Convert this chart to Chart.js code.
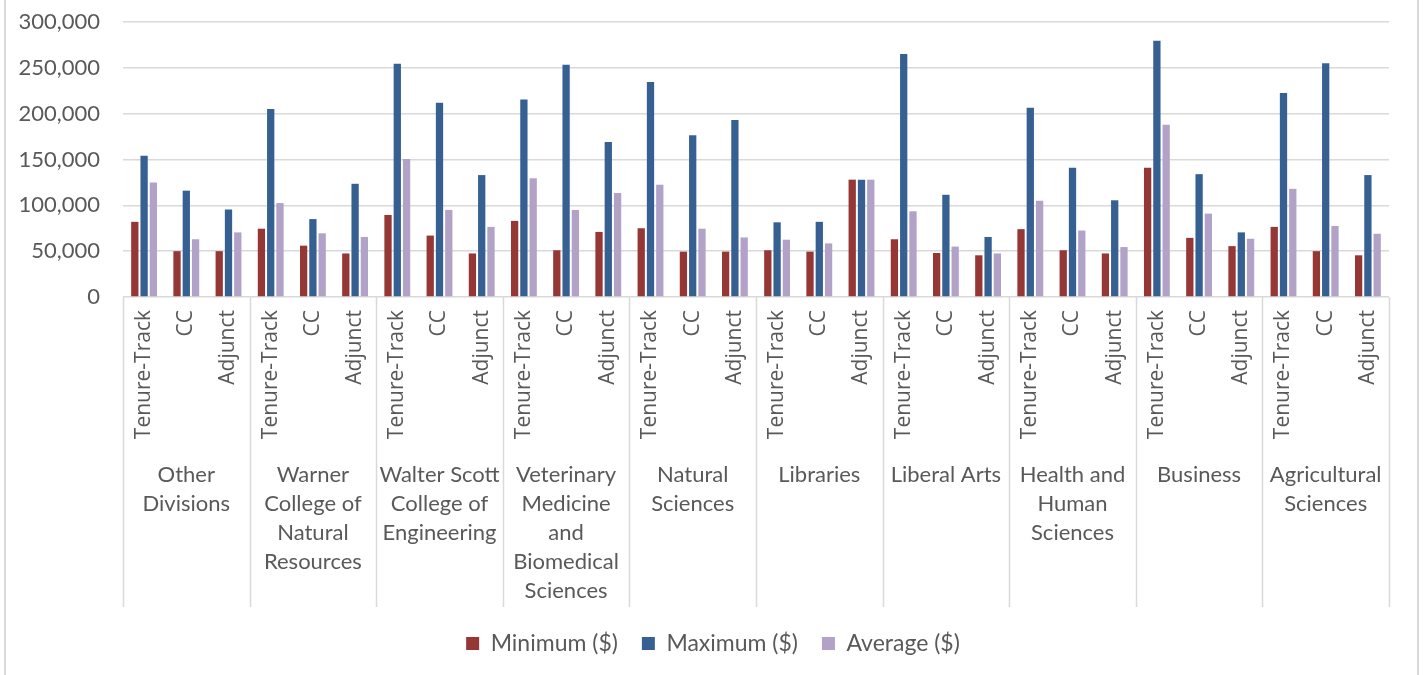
<!DOCTYPE html>
<html>
<head>
<meta charset="utf-8">
<title>Faculty salary ranges by college</title>
<script src="https://cdn.jsdelivr.net/npm/chart.js@4/dist/chart.umd.min.js"></script>
<style>
  html, body { margin: 0; padding: 0; background: #ffffff; }
  #wrap { position: relative; width: 1426px; height: 675px; }
  #wrap::before, #wrap::after {
    content: ""; position: absolute; top: 0; bottom: 0; width: 2px; background: #d9d9d9;
  }
  #wrap::before { left: 4px; }
  #wrap::after { left: 1417px; }
  canvas { display: block; }
</style>
</head>
<body>
<div id="wrap"><canvas id="chart" width="1426" height="675"></canvas></div>
<script>
// Colleges (outer category level), each wrapped onto lines
const colleges = [
  ["Other", "Divisions"],
  ["Warner", "College of", "Natural", "Resources"],
  ["Walter Scott", "College of", "Engineering"],
  ["Veterinary", "Medicine", "and", "Biomedical", "Sciences"],
  ["Natural", "Sciences"],
  ["Libraries"],
  ["Liberal Arts"],
  ["Health and", "Human", "Sciences"],
  ["Business"],
  ["Agricultural", "Sciences"]
];

// Appointment types (inner category level)
const appointmentTypes = ["Tenure-Track", "CC", "Adjunct"];

// Salary series, one value per college × appointment type
const minimumSalary = [
  82000, 50000, 50000,
  74500, 56000, 47500,
  89500, 67000, 47500,
  83000, 51000, 71000,
  75000, 49500, 49500,
  51000, 49500, 128000,
  63000, 48000, 45500,
  74000, 51000, 47500,
  141000, 64500, 55500,
  76500, 50000, 45500
];
const maximumSalary = [
  154000, 116000, 95500,
  205000, 85000, 123500,
  254500, 212000, 133000,
  215500, 253500, 169000,
  234500, 176500, 193000,
  81500, 82000, 128000,
  265000, 111500, 65500,
  206500, 141000, 105500,
  279500, 134000, 70500,
  222500, 255000, 133000
];
const averageSalary = [
  125000, 63000, 70500,
  102500, 69500, 65500,
  150500, 95000, 76500,
  129500, 95000, 113500,
  122500, 74500, 65000,
  62500, 58500, 128000,
  93500, 55000, 47500,
  105000, 72500, 54500,
  188000, 91000, 63500,
  118000, 77500, 69000
];

// Y axis tick values
const yTicks = [0, 50000, 100000, 150000, 200000, 250000, 300000];

const seriesNames = ["Minimum ($)", "Maximum ($)", "Average ($)"];

const labels = [];
colleges.forEach(() => appointmentTypes.forEach(t => labels.push(t)));

const TEXT = "#595959";
const GRID = "#d9d9d9";
const AXIS_HEIGHT = 311;   // space reserved under the plot for both category levels
const DIVIDER_LEN = 310;   // length of the college divider lines

// Draws the college level of the category axis: divider lines and wrapped names
const collegeAxis = {
  id: "collegeAxis",
  afterDraw(chart) {
    const x = chart.scales.x;
    const ctx = chart.ctx;
    const n = appointmentTypes.length;
    const step = x.getPixelForValue(1) - x.getPixelForValue(0);
    const top = chart.chartArea.bottom;
    ctx.save();
    ctx.strokeStyle = GRID;
    ctx.lineWidth = 1.5;
    for (let g = 0; g <= colleges.length; g++) {
      const px = Math.round(x.getPixelForValue(g * n) - step / 2) + 0.5;
      ctx.beginPath();
      ctx.moveTo(px, top);
      ctx.lineTo(px, top + DIVIDER_LEN);
      ctx.stroke();
    }
    ctx.fillStyle = TEXT;
    ctx.font = "22px Lato";
    ctx.textAlign = "center";
    ctx.textBaseline = "middle";
    colleges.forEach((lines, g) => {
      const cx = (x.getPixelForValue(g * n) + x.getPixelForValue(g * n + n - 1)) / 2;
      lines.forEach((line, i) => {
        ctx.fillText(line, cx, top + 178 + i * 29);
      });
    });
    ctx.restore();
  }
};

// vertical scales keep no extra room above or below the plot for their labels
function noLabelOverflow(scale) {
  scale.paddingTop = 0;
  scale.paddingBottom = 0;
}

new Chart(document.getElementById("chart"), {
  type: "bar",
  data: {
    labels: labels,
    datasets: [
      { label: seriesNames[0], data: minimumSalary, backgroundColor: "#953735" },
      { label: seriesNames[1], data: maximumSalary, backgroundColor: "#376092" },
      { label: seriesNames[2], data: averageSalary, backgroundColor: "#b3a2c7" }
    ]
  },
  options: {
    responsive: false,
    animation: false,
    events: [],
    datasets: {
      bar: { categoryPercentage: 0.66, barPercentage: 0.785, borderWidth: 0 }
    },
    layout: { padding: { left: 0, right: 0, top: 22, bottom: 10 } },
    plugins: {
      legend: {
        position: "bottom",
        labels: {
          color: TEXT,
          font: { family: "Lato", size: 23 },
          boxWidth: 13,
          boxHeight: 13,
          padding: 24
        }
      },
      tooltip: { enabled: false }
    },
    scales: {
      x: {
        grid: { display: false },
        border: { display: false },
        ticks: {
          color: TEXT,
          font: { family: "Open Sans", size: 21 },
          minRotation: 90,
          maxRotation: 90,
          autoSkip: false,
          padding: 5
        },
        afterFit(scale) { scale.height = AXIS_HEIGHT; }
      },
      y: {
        min: 0,
        max: 300000,
        afterBuildTicks(scale) { scale.ticks = yTicks.map(v => ({ value: v })); },
        grid: { color: GRID, lineWidth: 1.5, drawTicks: false },
        border: { display: false },
        ticks: {
          color: TEXT,
          font: { family: "Lato", size: 22 },
          padding: 23,
          callback: v => v.toLocaleString("en-US")
        },
        afterFit(scale) { scale.width = 123; noLabelOverflow(scale); }
      },
      // empty right-hand margin so the legend centres on the full width
      margin: {
        position: "right",
        display: true,
        grid: { display: false },
        border: { display: false },
        ticks: { display: false },
        afterFit(scale) { scale.width = 37; noLabelOverflow(scale); }
      }
    }
  },
  plugins: [collegeAxis]
});
</script>
</body>
</html>
